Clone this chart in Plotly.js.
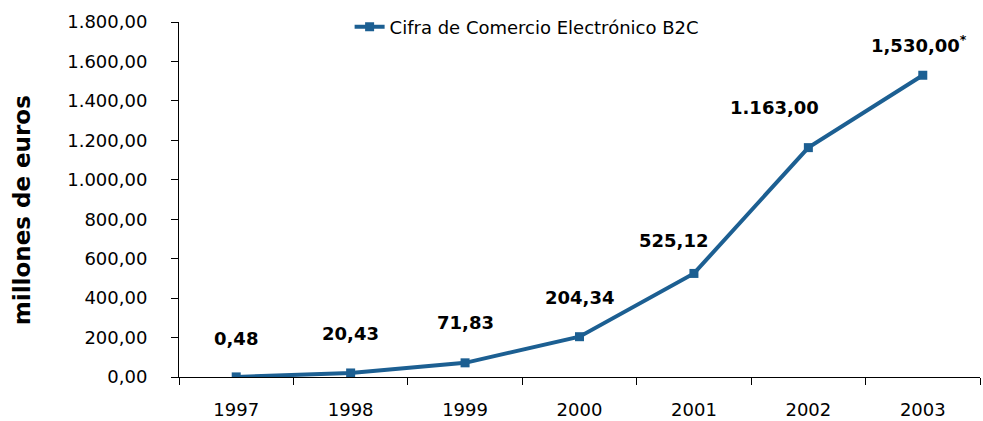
<!DOCTYPE html>
<html>
<head>
<meta charset="utf-8">
<script src="https://cdn.plot.ly/plotly-3.0.1.min.js"></script>
<style>html,body{margin:0;padding:0;background:#fff}#chart{width:983px;height:421px}</style>
</head>
<body>
<div id="chart"></div>
<script>
var years = ['1997','1998','1999','2000','2001','2002','2003'];
var values = [0.48, 20.43, 71.83, 204.34, 525.12, 1163.00, 1530.00];
var labels = ['0,48', '20,43', '71,83', '204,34', '525,12', '1.163,00', '1,530,00<sup>*</sup>'];
var seriesName = 'Cifra de Comercio Electrónico B2C';
var yTitle = 'millones de euros';

var color = '#1c5f92';
var labelShiftX = [0, 0, 0, 0, -20, -34, -4];
var labelShiftY = [38, 39, 40, 39, 33, 40, 31];

var annotations = [];
for (var i = 0; i < years.length; i++) {
  annotations.push({x: i, y: values[i], xref: 'x', yref: 'y', text: '<b>' + labels[i] + '</b>',
    showarrow: false, xshift: labelShiftX[i], yshift: labelShiftY[i],
    font: {size: 18, color: '#000'}});
}
annotations.push({x: -157/801, y: 0.47, xref: 'paper', yref: 'paper', xanchor: 'center', yanchor: 'middle',
  text: '<b>' + yTitle + '</b>', textangle: -90, showarrow: false, font: {size: 23, color: '#000'}});

var trace = {x: years, y: values, type: 'scatter', mode: 'lines+markers', name: seriesName,
  line: {color: color, width: 4}, marker: {symbol: 'square', size: 9, color: color}};

var layout = {
  width: 983, height: 421,
  margin: {l: 179, r: 3, t: 22, b: 44},
  paper_bgcolor: '#fff', plot_bgcolor: '#fff',
  separators: ',.',
  font: {family: 'DejaVu Sans', size: 18, color: '#000'},
  showlegend: true,
  legend: {orientation: 'h', x: 0.213, y: 0.986, xanchor: 'left', yanchor: 'middle',
    font: {size: 18}, bgcolor: 'rgba(0,0,0,0)'},
  xaxis: {type: 'category', tickson: 'boundaries', ticks: 'outside', ticklen: 7,
    tickcolor: '#000', showline: true, linecolor: '#000', linewidth: 1,
    showgrid: false, zeroline: false, tickfont: {size: 18}, range: [-0.5, 6.5],
    ticklabelstandoff: 16},
  yaxis: {range: [0, 1800], dtick: 200, tickformat: ',.2f', ticks: 'outside', ticklen: 7,
    tickcolor: '#000', showline: true, linecolor: '#000', linewidth: 1, showgrid: false,
    zeroline: false, tickfont: {size: 18}, ticklabelstandoff: 20},
  annotations: annotations
};

Plotly.newPlot('chart', [trace], layout, {displayModeBar: false, staticPlot: true});
</script>
</body>
</html>
